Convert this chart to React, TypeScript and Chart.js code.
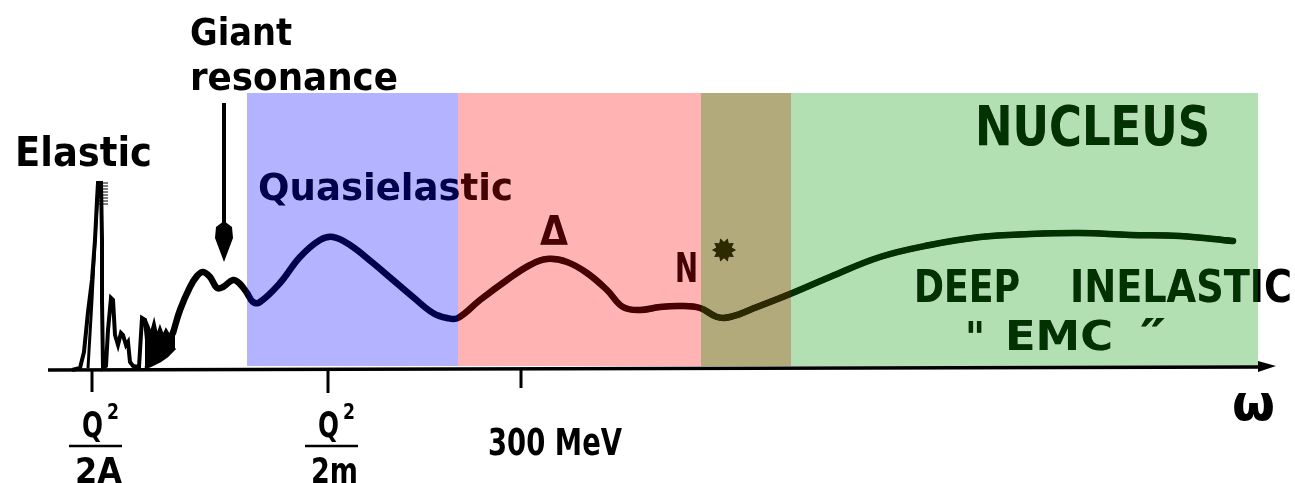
import React, { useEffect, useRef } from "react";
import { Chart, registerables } from "chart.js";

Chart.register(...registerables);

// ---- data (x = energy transfer ω, arbitrary units; y = response above baseline) ----
const curveX = [173,180,190,197,203,210,217,223,233,240,247,253,260,280,300,320,333,350,373,393,413,433,447,458,480,507,530,547,567,587,607,623,640,660,680,700,717,730,757,790,830,880,930,980,1030,1080,1130,1180,1233];
const curveY = [37,60,83,94,98,93,82,83,90,86,77,68,68,87,113,130,133,125,107,90,73,57,52,52,70,90,105,111,108,97,80,63,60,63,64,62,53,53,63,76,93,113,125,133,136,137,135,134,129];

const elasticX = [72,80,84,88,92,95,97,98,101,102,102,103,106,108,111,113,115,118,121,123,126,128,130,133,139,142,145,147,150];
const elasticY = [0,2,18,58,90,130,170,187,187,130,70,2,4,40,72,70,35,25,37,35,25,28,8,4,3,52,50,30,40];

const elasticInnerX = [88,92,95,98];
const elasticInnerY = [2,70,130,180];

const hatchX = [102,102,102,102,102,102,102,102];
const hatchY = [187,184,181,178,175,172,169,166];

const noiseTopX = [145,148,151,154,157,160,163,166,169,172,175];
const noiseTopY = [50,43,35,46,32,41,33,39,34,38,37];
const noiseBottomX = [145,152,160,167,175];
const noiseBottomY = [2,5,9,14,22];

// regions: [start, end] in ω units
const regionNames = ["Quasielastic", "Δ region", "N*", "Deep inelastic"];
const regionStart = [247, 458, 701, 791];
const regionEnd = [458, 701, 791, 1258];
const regionLight = ["#b3b3ff", "#ffb3b3", "#b3aa7c", "#b3e0b3"];
const regionDark = ["#000050", "#4a0000", "#2d2a00", "#003300"];

// axis tick positions & labels
const tickX = [92, 328, 521];
const tickLabels = ["Q²/2A", "Q²/2m", "300 MeV"];

const FONT = '"DejaVu Sans Condensed", "DejaVu Sans", sans-serif';

const toPts = (xs: number[], ys: number[]) => xs.map((x, i) => ({ x, y: ys[i] }));

function fitText(ctx: CanvasRenderingContext2D, txt: string, xL: number, base: number, w: number, size: number, weight = "bold") {
  ctx.font = `${weight} ${size}px ${FONT}`;
  const m = ctx.measureText(txt).width;
  ctx.save();
  ctx.translate(xL, base);
  ctx.scale(w / m, 1);
  ctx.fillText(txt, 0, 0);
  ctx.restore();
}

const diagramPlugin = {
  id: "diagram",
  beforeDatasetsDraw(chart: any) {
    const { ctx, scales } = chart;
    const xs = scales.x, ys = scales.y;
    ctx.save();
    for (let i = 0; i < regionStart.length; i++) {
      const x0 = xs.getPixelForValue(regionStart[i]);
      const x1 = xs.getPixelForValue(regionEnd[i]);
      const y0 = ys.getPixelForValue(277);
      const y1 = ys.getPixelForValue(4);
      ctx.fillStyle = regionLight[i];
      ctx.fillRect(x0, y0, x1 - x0, y1 - y0);
    }
    ctx.restore();
  },
  afterDatasetsDraw(chart: any) {
    const { ctx, scales } = chart;
    const X = (v: number) => scales.x.getPixelForValue(v);
    const Y = (v: number) => scales.y.getPixelForValue(v);
    ctx.save();
    ctx.fillStyle = "#000";
    ctx.strokeStyle = "#000";
    ctx.textBaseline = "alphabetic";

    // axis
    ctx.lineWidth = 3.5;
    ctx.beginPath();
    ctx.moveTo(X(48), Y(0));
    ctx.lineTo(X(1262), Y(3));
    ctx.stroke();
    ctx.beginPath();
    ctx.moveTo(X(1276), Y(4));
    ctx.lineTo(X(1258), Y(9));
    ctx.lineTo(X(1258), Y(-2));
    ctx.closePath();
    ctx.fill();

    // ticks
    ctx.lineWidth = 3;
    const tickLen = [22, 23, 18];
    tickX.forEach((t, i) => {
      ctx.beginPath();
      ctx.moveTo(X(t), Y(0));
      ctx.lineTo(X(t), Y(-tickLen[i]));
      ctx.stroke();
    });

    // tick labels
    const frac = (cx: number, denom: string) => {
      fitText(ctx, "Q", X(cx - 10), Y(-67), 21, 36, "bold");
      fitText(ctx, "2", X(cx + 15), Y(-49), 12, 22, "bold");
      ctx.lineWidth = 2.5;
      ctx.beginPath();
      ctx.moveTo(X(cx - 23), Y(-76));
      ctx.lineTo(X(cx + 30), Y(-76));
      ctx.stroke();
      fitText(ctx, denom, X(cx - 17), Y(-113), 47, 36, "bold");
    };
    frac(92, tickLabels[0].split("/")[1]);
    frac(328, tickLabels[1].split("/")[1]);
    fitText(ctx, tickLabels[2], X(488), Y(-85), 134, 37);
    fitText(ctx, "ω", X(1232), Y(-50), 43, 50, "bold");

    // text labels
    fitText(ctx, "Elastic", X(15), Y(204), 137, 40);
    fitText(ctx, "Giant", X(190), Y(325), 102, 37);
    fitText(ctx, "resonance", X(190), Y(280), 208, 37);
    fitText(ctx, "Quasielastic", X(258), Y(170), 255, 38);
    fitText(ctx, "Δ", X(540), Y(125), 28, 40);
    fitText(ctx, "N", X(675), Y(88), 23, 41);
    fitText(ctx, "NUCLEUS", X(975), Y(225), 235, 55);
    fitText(ctx, "DEEP", X(914), Y(68), 106, 45);
    fitText(ctx, "INELASTIC", X(1070), Y(68), 222, 45);
    fitText(ctx, "\"", X(965), Y(18), 20, 42);
    fitText(ctx, "EMC", X(1005), Y(20), 108, 40);
    fitText(ctx, "″", X(1140), Y(18), 26, 46);

    // star (N*)
    const cx = X(724), cy = Y(120);
    ctx.beginPath();
    for (let k = 0; k < 20; k++) {
      const r = k % 2 === 0 ? 12 : 8;
      const a = (k / 20) * Math.PI * 2;
      const px = cx + r * Math.cos(a), py = cy + r * Math.sin(a);
      if (k === 0) ctx.moveTo(px, py); else ctx.lineTo(px, py);
    }
    ctx.closePath();
    ctx.fill();

    // giant resonance arrow
    ctx.lineWidth = 4;
    ctx.beginPath();
    ctx.moveTo(X(224), Y(267));
    ctx.lineTo(X(224), Y(145));
    ctx.stroke();
    ctx.beginPath();
    ctx.moveTo(X(224), Y(108));
    ctx.lineTo(X(215), Y(132));
    ctx.lineTo(X(216), Y(143));
    ctx.lineTo(X(224), Y(149));
    ctx.lineTo(X(232), Y(143));
    ctx.lineTo(X(233), Y(132));
    ctx.closePath();
    ctx.fill();

    // tint everything inside each region with its dark colour
    ctx.globalCompositeOperation = "lighten";
    for (let i = 0; i < regionStart.length; i++) {
      const x0 = X(regionStart[i]);
      const x1 = X(regionEnd[i]);
      const y0 = Y(277);
      const y1 = Y(4);
      ctx.fillStyle = regionDark[i];
      ctx.fillRect(x0, y0, x1 - x0, y1 - y0);
    }
    ctx.restore();
  },
};

export default function App() {
  const ref = useRef<HTMLCanvasElement | null>(null);
  useEffect(() => {
    if (!ref.current) return;
    const chart = new Chart(ref.current, {
      type: "line",
      data: {
        datasets: [
          {
            label: "Response",
            data: toPts(curveX, curveY),
            borderColor: "#000",
            borderWidth: 6.5,
            pointRadius: 0,
            tension: 0.4,
            borderCapStyle: "round",
            borderJoinStyle: "round",
          },
          {
            label: "Elastic",
            data: toPts(elasticX, elasticY),
            borderColor: "#000",
            borderWidth: 4,
            pointRadius: 0,
            tension: 0,
          },
          {
            label: "Elastic inner",
            data: toPts(elasticInnerX, elasticInnerY),
            borderColor: "#000",
            borderWidth: 3,
            pointRadius: 0,
            tension: 0,
          },
          {
            label: "Noise top",
            data: toPts(noiseTopX, noiseTopY),
            borderColor: "#000",
            backgroundColor: "#000",
            borderWidth: 3.5,
            pointRadius: 0,
            tension: 0,
            fill: "+1",
          },
          {
            label: "Noise bottom",
            data: toPts(noiseBottomX, noiseBottomY),
            borderColor: "#000",
            borderWidth: 3,
            pointRadius: 0,
            tension: 0,
          },
          {
            type: "scatter",
            label: "Hatch",
            data: toPts(hatchX, hatchY),
            showLine: false,
            pointStyle: "line",
            pointRadius: 6,
            borderColor: "#000",
            borderWidth: 1,
          } as any,
        ],
      },
      options: {
        animation: false,
        responsive: false,
        devicePixelRatio: 1,
        layout: { padding: 0, autoPadding: false },
        plugins: { legend: { display: false }, tooltip: { enabled: false }, title: { display: false } },
        events: [],
        scales: {
          x: { type: "linear", min: 0, max: 1295, display: false },
          y: { type: "linear", min: -113, max: 370, display: false },
        },
      },
      plugins: [diagramPlugin],
    });
    return () => chart.destroy();
  }, []);
  return (
    <div style={{ position: "fixed", left: 0, top: 0, width: 1295, height: 483, background: "#fff" }}>
      <canvas ref={ref} width={1295} height={483} style={{ display: "block", width: 1295, height: 483 }} />
    </div>
  );
}
